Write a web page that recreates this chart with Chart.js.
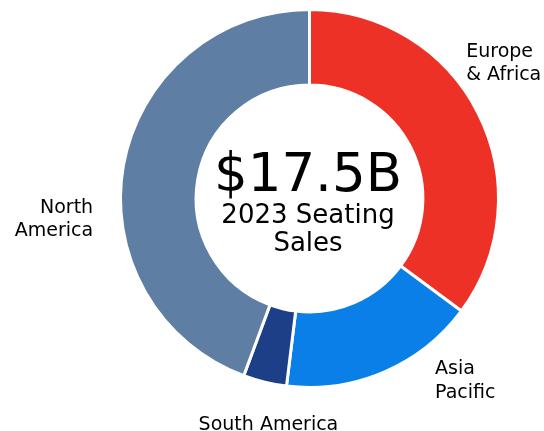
<!DOCTYPE html>
<html>
<head>
<meta charset="utf-8">
<script src="https://cdn.jsdelivr.net/npm/chart.js@4"></script>
<style>
  html, body { margin: 0; padding: 0; background: #ffffff; }
  #wrap { width: 544px; height: 431px; position: relative; }
</style>
</head>
<body>
<div id="wrap"><canvas id="c" width="544" height="431"></canvas></div>
<script>
// ---- data ----
const regions = ["Europe & Africa", "Asia Pacific", "South America", "North America"];
const salesBillions = [6.15, 2.94, 0.65, 7.76];
const regionColors = ["#EE3126", "#0A7FE8", "#1C3F88", "#5E7FA3"];
const labelLines = [["Europe", "& Africa"], ["Asia", "Pacific"], ["South America"], ["North", "America"]];
const centerTitle = "$17.5B";
const centerSubtitle = ["2023 Seating", "Sales"];

// label placement relative to the arc's mid-angle anchor
const labelPlacement = [
  { align: "left", dx: -21, dy: -52 },
  { align: "left", dx: 47, dy: -7 },
  { align: "center", dx: 6, dy: 38 },
  { align: "right", dx: -20.5, dy: 49.5 }
];

const FONT = '"DejaVu Sans", Verdana, sans-serif';

const outsideLabels = {
  id: "outsideLabels",
  afterDatasetsDraw(chart) {
    const ctx = chart.ctx;
    const meta = chart.getDatasetMeta(0);
    ctx.save();
    ctx.fillStyle = "#000";
    ctx.font = "19px " + FONT;
    ctx.textBaseline = "alphabetic";
    meta.data.forEach((arc, i) => {
      const p = arc.getProps(["x", "y", "startAngle", "endAngle", "outerRadius"], true);
      const mid = (p.startAngle + p.endAngle) / 2;
      const r = p.outerRadius + 10;
      const ax = p.x + Math.cos(mid) * r;
      const ay = p.y + Math.sin(mid) * r;
      const pl = labelPlacement[i];
      ctx.textAlign = pl.align;
      labelLines[i].forEach((line, k) => {
        ctx.fillText(line, ax + pl.dx, ay + pl.dy + k * 23.5);
      });
    });
    // center text
    const a0 = meta.data[0];
    const cx = a0.x - 1.5, cy = a0.y;
    ctx.textAlign = "center";
    ctx.font = "53px " + FONT;
    ctx.fillText(centerTitle, cx, cy - 7.5);
    ctx.font = "26px " + FONT;
    ctx.fillText(centerSubtitle[0], cx, cy + 24.5);
    ctx.fillText(centerSubtitle[1], cx, cy + 52.5);
    ctx.restore();
  }
};

new Chart(document.getElementById("c"), {
  type: "doughnut",
  data: {
    labels: regions,
    datasets: [{
      data: salesBillions,
      backgroundColor: regionColors,
      borderColor: "#ffffff",
      borderWidth: 3,
      hoverBorderWidth: 3,
      hoverOffset: 0
    }]
  },
  options: {
    responsive: false,
    animation: false,
    events: [],
    cutout: "60%",
    layout: { padding: { left: 119, right: 44, top: 8, bottom: 42 } },
    plugins: {
      legend: { display: false },
      tooltip: { enabled: false }
    }
  },
  plugins: [outsideLabels]
});
</script>
</body>
</html>
